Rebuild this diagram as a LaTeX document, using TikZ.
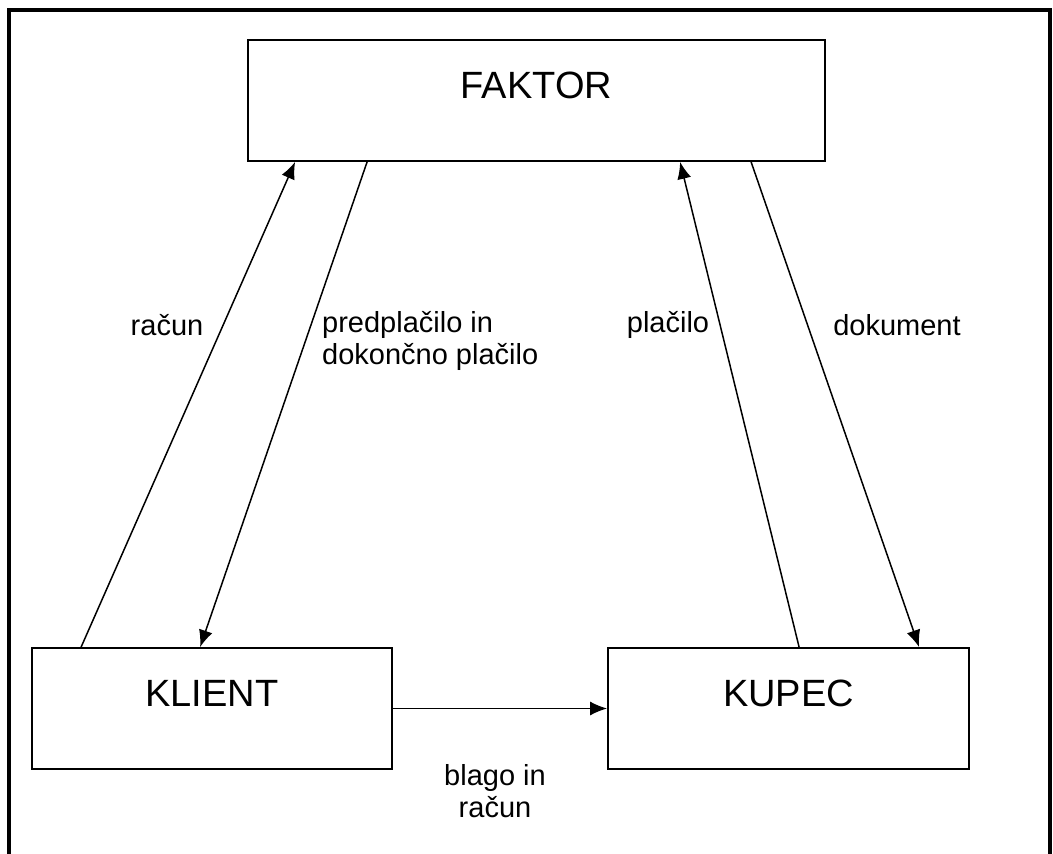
\documentclass[tikz,border=0pt]{standalone}
\usepackage{fontspec}
\setmainfont{Liberation Sans}
\usepackage{tikz}
\usetikzlibrary{shapes, arrows.meta}

\begin{document}
\begin{tikzpicture}[x=1pt, y=-1pt]
		\tikzstyle{party}=[rectangle, draw, line width=1.8pt, text height=27pt, text depth=31pt,
			minimum height=121pt, font=\fontsize{38}{45}\selectfont]
		\tikzstyle{flow}=[font=\fontsize{29}{32}\selectfont, inner sep=0pt]
		\tikzstyle{link}=[->, line width=1.5pt, >={Latex[length=17pt, width=14pt]}]

		\useasboundingbox (0,0) rectangle (1053,854);
		\draw[line width=4pt] (9,856) -- (9,10) -- (1050,10) -- (1050,856);

		\node[party, minimum width=577pt] (faktor) at (536.5,100.5) {FAKTOR};
		\node[party, minimum width=360pt] (klient) at (212,708.5) {KLIENT};
		\node[party, minimum width=361pt] (kupec) at (788.5,708.5) {KUPEC};

		\draw[link] ([xshift=50pt]klient.north west) -- ([xshift=48pt]faktor.south west);
		\draw[link] ([xshift=120pt]faktor.south west) -- ([xshift=169pt]klient.north west);
		\draw[link] ([xshift=192pt]kupec.north west) -- ([xshift=433pt]faktor.south west);
		\draw[link] ([xshift=504pt]faktor.south west) -- ([xshift=312pt]kupec.north west);
		\draw[link] (klient.east) -- (kupec.west);

		\node[flow] (racun) at (167,325) {račun};
		\node[flow, anchor=west, align=left] (predplacilo) at (322,341) {predplačilo in\\dokončno plačilo};
		\node[flow] (placilo) at (668,325) {plačilo};
		\node[flow] (dokument) at (897,325) {dokument};
		\node[flow, align=center] (blago) at (495,791) {blago in\\račun};

	\end{tikzpicture}
\end{document}
